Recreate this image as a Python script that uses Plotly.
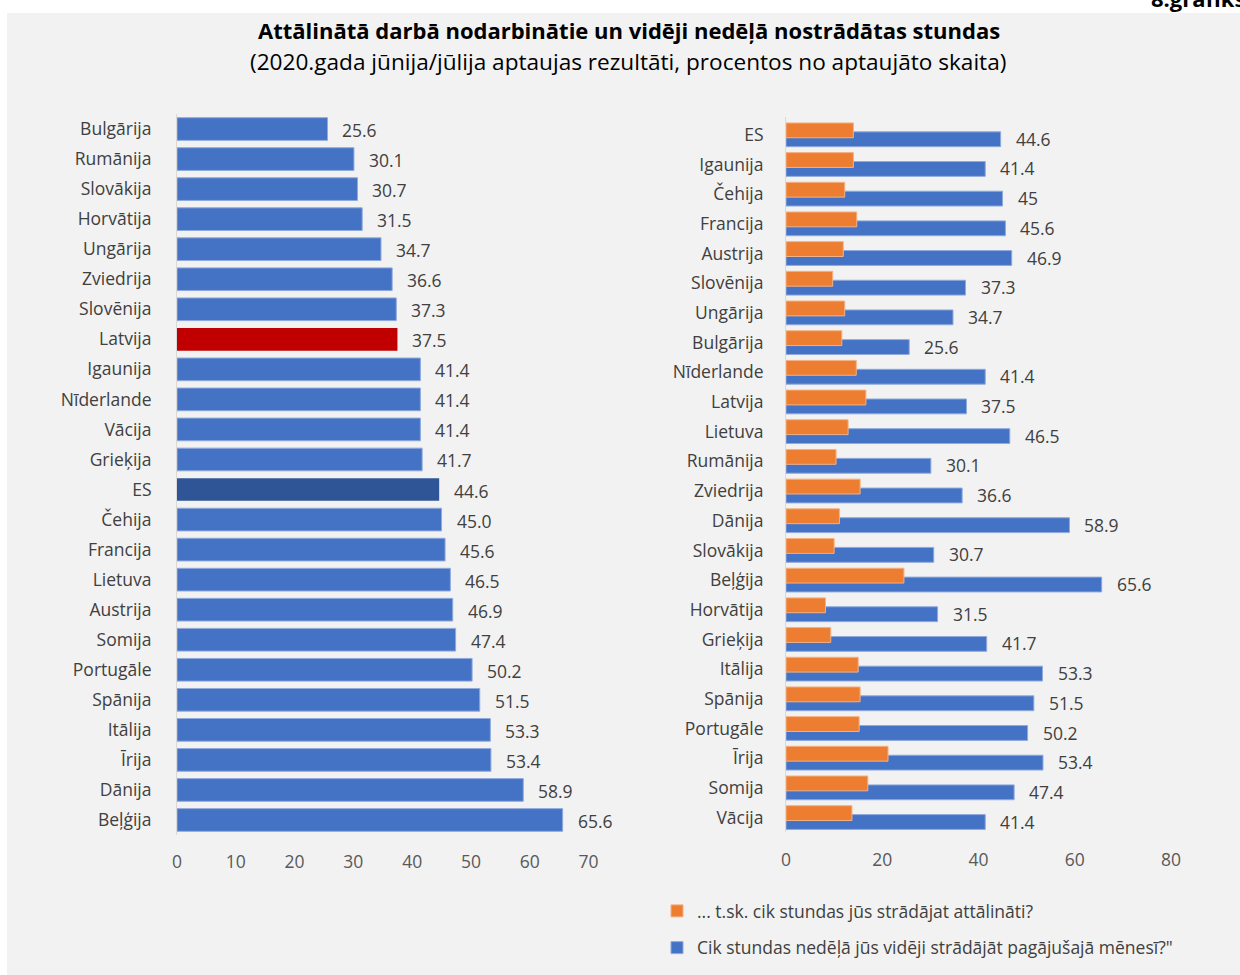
import plotly.graph_objects as go

# Left chart: share of employees working remotely (%), sorted ascending
left_countries = ["Bulgārija", "Rumānija", "Slovākija", "Horvātija", "Ungārija", "Zviedrija",
                  "Slovēnija", "Latvija", "Igaunija", "Nīderlande", "Vācija", "Grieķija", "ES",
                  "Čehija", "Francija", "Lietuva", "Austrija", "Somija", "Portugāle", "Spānija",
                  "Itālija", "Īrija", "Dānija", "Beļģija"]
left_values = [25.6, 30.1, 30.7, 31.5, 34.7, 36.6, 37.3, 37.5, 41.4, 41.4, 41.4, 41.7, 44.6,
               45.0, 45.6, 46.5, 46.9, 47.4, 50.2, 51.5, 53.3, 53.4, 58.9, 65.6]

# Right chart: weekly hours worked, total and of which remotely
right_countries = ["ES", "Igaunija", "Čehija", "Francija", "Austrija", "Slovēnija", "Ungārija",
                   "Bulgārija", "Nīderlande", "Latvija", "Lietuva", "Rumānija", "Zviedrija",
                   "Dānija", "Slovākija", "Beļģija", "Horvātija", "Grieķija", "Itālija", "Spānija",
                   "Portugāle", "Īrija", "Somija", "Vācija"]
hours_total = [44.6, 41.4, 45, 45.6, 46.9, 37.3, 34.7, 25.6, 41.4, 37.5, 46.5, 30.1, 36.6,
               58.9, 30.7, 65.6, 31.5, 41.7, 53.3, 51.5, 50.2, 53.4, 47.4, 41.4]
hours_remote = [14.0, 14.0, 12.2, 14.7, 11.9, 9.7, 12.2, 11.6, 14.6, 16.6, 12.9, 10.4, 15.4,
                11.1, 10.0, 24.5, 8.2, 9.3, 15.0, 15.4, 15.2, 21.2, 17.0, 13.7]

left_ticks = [0, 10, 20, 30, 40, 50, 60, 70]
right_ticks = [0, 20, 40, 60, 80]

name_remote = "... t.sk. cik stundas jūs strādājat attālināti?"
name_total = "Cik stundas nedēļā jūs vidēji strādājāt pagājušajā mēnesī?\""

title_text = "Attālinātā darbā nodarbinātie un vidēji nedēļā nostrādātas stundas"
subtitle_text = "(2020.gada jūnija/jūlija aptaujas rezultāti, procentos no aptaujāto skaita)"
corner_text = "8.grafiks"

BLUE = "#4472c4"
ORANGE = "#ed7d31"
RED = "#c00000"
DARK = "#2f5597"
FONT = "Open Sans, Noto Sans, sans-serif"
W, H = 1240, 975


def px_x(p):
    return p / W


def px_y(p):
    return 1 - p / H


left_colors = [RED if c == "Latvija" else DARK if c == "ES" else BLUE for c in left_countries]
left_edges = ["rgba(0,0,0,0)" if c in ("Latvija", "ES") else "#8faadc" for c in left_countries]

fig = go.Figure()

fig.add_trace(go.Bar(
    x=left_values, y=left_countries, orientation="h",
    marker=dict(color=left_colors, line=dict(color=left_edges, width=1)),
    xaxis="x", yaxis="y", showlegend=False, hoverinfo="x+y",
))

# total hours drawn first so the remote-hours bars sit on top of them
fig.add_trace(go.Bar(
    x=hours_total, y=right_countries, orientation="h", name=name_total,
    marker=dict(color=BLUE, line=dict(color="#8faadc", width=1)),
    width=0.5, offset=-0.10,
    xaxis="x2", yaxis="y2", legendgroup="total", legendrank=2,
))
fig.add_trace(go.Bar(
    x=hours_remote, y=right_countries, orientation="h", name=name_remote,
    marker=dict(color=ORANGE, line=dict(color="#f4b183", width=1)),
    width=0.5, offset=-0.40,
    xaxis="x2", yaxis="y2", legendgroup="remote", legendrank=1,
))

label_font = dict(size=17.5, color="#404040", family=FONT)
annotations = []
for c, v in zip(left_countries, left_values):
    annotations.append(dict(x=v, y=c, xref="x", yref="y", text=f"{v:.1f}", showarrow=False,
                            xanchor="left", xshift=13, yshift=-1, font=label_font))
for c, v in zip(right_countries, hours_total):
    annotations.append(dict(x=v, y=c, xref="x2", yref="y2", text=f"{v:g}", showarrow=False,
                            xanchor="left", xshift=13, yshift=-4, font=label_font))

annotations += [
    dict(x=px_x(629), y=px_y(30), xref="paper", yref="paper", text=f"<b>{title_text}</b>",
         showarrow=False, xanchor="center", yanchor="middle",
         font=dict(size=22, color="#000000", family=FONT)),
    dict(x=px_x(628), y=px_y(62), xref="paper", yref="paper", text=subtitle_text,
         showarrow=False, xanchor="center", yanchor="middle",
         font=dict(size=22.6, color="#000000", family=FONT)),
    dict(x=px_x(1247), y=px_y(-2), xref="paper", yref="paper", text=f"<b>{corner_text}</b>",
         showarrow=False, xanchor="right", yanchor="middle",
         font=dict(size=22, color="#000000", family=FONT)),
]

axis_font = dict(size=17.5, color="#595959", family=FONT)
cat_font = dict(size=17.5, color="#404040", family=FONT)

fig.update_layout(
    width=W, height=H,
    margin=dict(l=0, r=0, t=0, b=0),
    paper_bgcolor="#ffffff",
    plot_bgcolor="rgba(0,0,0,0)",
    barmode="overlay",
    bargap=0.245,
    font=dict(family=FONT, color="#404040"),
    xaxis=dict(domain=[px_x(177), px_x(588.5)], range=[0, 70], tickvals=left_ticks,
               showgrid=False, zeroline=False, showline=False, tickfont=axis_font,
               ticklabelstandoff=14, anchor="y", automargin=False, fixedrange=True),
    yaxis=dict(domain=[px_y(835), px_y(114)], categoryorder="array",
               categoryarray=left_countries, autorange="reversed", showgrid=False,
               showline=True, linecolor="#d9d9d9", linewidth=1, tickfont=cat_font,
               ticklabelstandoff=21, anchor="x", automargin=False, fixedrange=True),
    xaxis2=dict(domain=[px_x(786), px_x(1171)], range=[0, 80], tickvals=right_ticks,
                showgrid=False, zeroline=False, showline=False, tickfont=axis_font,
                ticklabelstandoff=15, anchor="y2", automargin=False, fixedrange=True),
    yaxis2=dict(domain=[px_y(832.4), px_y(116.8)], categoryorder="array",
                categoryarray=right_countries, autorange="reversed", showgrid=False,
                showline=True, linecolor="#d9d9d9", linewidth=1, tickfont=cat_font,
                ticklabelstandoff=18, anchor="x2", automargin=False, fixedrange=True),
    legend=dict(x=px_x(657), y=px_y(893), xanchor="left", yanchor="top",
                traceorder="grouped", tracegroupgap=11,
                bgcolor="rgba(0,0,0,0)", font=dict(size=17.5, color="#404040", family=FONT)),
    shapes=[dict(type="rect", xref="paper", yref="paper", x0=px_x(7), x1=1, y0=0,
                 y1=px_y(13), fillcolor="#f2f2f2", line=dict(width=0), layer="below")],
    annotations=annotations,
)

fig.write_html("out.html")
